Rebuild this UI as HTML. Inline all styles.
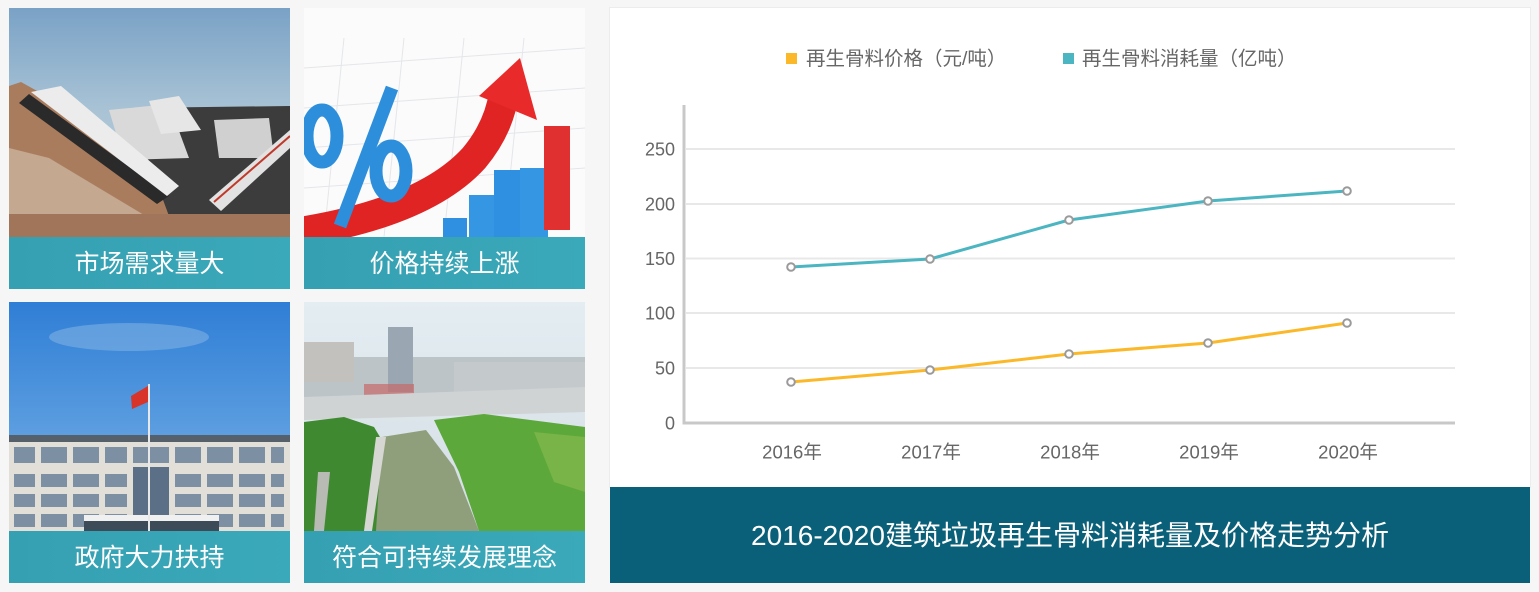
<!DOCTYPE html>
<html>
<head>
<meta charset="utf-8">
<style>
html,body{margin:0;padding:0;background:#f6f6f6;}
body{width:1539px;height:592px;overflow:hidden;}
svg{display:block;}
text{font-family:"Liberation Sans","Noto Sans CJK SC",sans-serif;}
</style>
</head>
<body>
<svg width="1539" height="592" viewBox="0 0 1539 592" xmlns="http://www.w3.org/2000/svg">
<defs>
  <linearGradient id="sky1" x1="0" y1="0" x2="0" y2="1">
    <stop offset="0" stop-color="#7aa2c6"/><stop offset="0.45" stop-color="#a9c3d5"/><stop offset="1" stop-color="#bccfd9"/>
  </linearGradient>
  <linearGradient id="sky3" x1="0" y1="0" x2="0" y2="1">
    <stop offset="0" stop-color="#2f7ed6"/><stop offset="0.6" stop-color="#5e9fe0"/><stop offset="1" stop-color="#8fc3ee"/>
  </linearGradient>
  <linearGradient id="sky4" x1="0" y1="0" x2="0" y2="1">
    <stop offset="0" stop-color="#e4edf2"/><stop offset="1" stop-color="#d2dde3"/>
  </linearGradient>
  <linearGradient id="cap" x1="0" y1="0" x2="1" y2="0">
    <stop offset="0" stop-color="#35a0b2"/><stop offset="1" stop-color="#3aa9b9"/>
  </linearGradient>
  <clipPath id="c1"><rect x="0" y="0" width="281" height="281"/></clipPath>
</defs>

<rect x="0" y="0" width="1539" height="592" fill="#f6f6f6"/>

<!-- Tile 1 -->
<g transform="translate(9,8)" clip-path="url(#c1)">
  <rect x="0" y="0" width="281" height="229" fill="url(#sky1)"/>
  <polygon points="0,78 12,74 30,84 70,118 120,160 160,195 220,205 281,208 281,229 0,229" fill="#a97c5e"/>
  <polygon points="0,140 40,150 90,180 140,210 0,229" fill="#c4a890"/>
  <polygon points="120,100 281,98 281,208 160,208" fill="#3c3c3c"/>
  <polygon points="100,102 160,96 180,150 115,152" fill="#d9d9d9"/>
  <polygon points="140,93 170,88 192,122 152,126" fill="#e6e6e6"/>
  <polygon points="205,112 260,110 265,150 210,150" fill="#d0d0d0"/>
  <polygon points="10,95 20,86 160,188 148,196" fill="#2a2a2a"/>
  <polygon points="22,84 52,78 170,178 158,188" fill="#ececec"/>
  <polygon points="200,192 281,122 281,140 212,203" fill="#e2e2e2"/>
  <line x1="205" y1="194" x2="281" y2="128" stroke="#c0392b" stroke-width="2"/>
  <rect x="0" y="206" width="281" height="23" fill="#a0755a"/>
  <rect x="0" y="229" width="281" height="52" fill="url(#cap)"/>
  <text x="140.5" y="264" font-size="25" fill="#ffffff" text-anchor="middle">市场需求量大</text>
</g>

<!-- Tile 2 -->
<g transform="translate(304,8)" clip-path="url(#c1)">
  <rect x="0" y="0" width="281" height="229" fill="#fbfbfb"/>
  <g stroke="#e4e6ea" stroke-width="1">
    <line x1="0" y1="60" x2="281" y2="40"/><line x1="0" y1="100" x2="281" y2="80"/>
    <line x1="0" y1="140" x2="281" y2="120"/><line x1="0" y1="180" x2="281" y2="160"/>
    <line x1="40" y1="30" x2="20" y2="229"/><line x1="100" y1="30" x2="80" y2="229"/>
    <line x1="160" y1="30" x2="140" y2="229"/><line x1="220" y1="30" x2="200" y2="229"/>
  </g>
  <path d="M -10 225 Q 120 205 170 150 Q 195 120 200 85" stroke="#e02424" stroke-width="30" fill="none"/>
  <polygon points="216,50 175,88 233,112" fill="#e82a2a"/>
  <ellipse cx="18" cy="128" rx="15" ry="26" fill="none" stroke="#2d8fdc" stroke-width="13"/>
  <line x1="88" y1="80" x2="36" y2="218" stroke="#2d8fdc" stroke-width="13"/>
  <ellipse cx="87" cy="163" rx="15" ry="25" fill="none" stroke="#2d8fdc" stroke-width="13"/>
  <rect x="139" y="210" width="24" height="19" fill="#2f8fe0"/>
  <rect x="165" y="187" width="25" height="42" fill="#3596e4"/>
  <rect x="190" y="162" width="27" height="67" fill="#2f8fe0"/>
  <rect x="216" y="160" width="28" height="69" fill="#3596e4"/>
  <rect x="240" y="118" width="26" height="104" fill="#e03030"/>
  <rect x="0" y="229" width="281" height="52" fill="url(#cap)"/>
  <text x="140.5" y="264" font-size="25" fill="#ffffff" text-anchor="middle">价格持续上涨</text>
</g>

<!-- Tile 3 -->
<g transform="translate(9,302)" clip-path="url(#c1)">
  <rect x="0" y="0" width="281" height="229" fill="url(#sky3)"/>
  <ellipse cx="120" cy="35" rx="80" ry="14" fill="#7fb0e2" opacity="0.6"/>
  <rect x="0" y="133" width="281" height="96" fill="#e2ded8"/>
  <rect x="0" y="133" width="281" height="7" fill="#55606a"/>
  <g fill="#7d8fa3">
    <rect x="5" y="145" width="270" height="16"/>
    <rect x="5" y="172" width="270" height="13"/>
    <rect x="5" y="192" width="270" height="13"/>
    <rect x="5" y="212" width="270" height="13"/>
  </g>
  <g fill="#e2ded8">
    <rect x="26" y="143" width="6" height="86"/><rect x="58" y="143" width="6" height="86"/>
    <rect x="90" y="143" width="6" height="86"/><rect x="118" y="143" width="6" height="86"/>
    <rect x="160" y="143" width="6" height="86"/><rect x="192" y="143" width="6" height="86"/>
    <rect x="224" y="143" width="6" height="86"/><rect x="256" y="143" width="6" height="86"/>
  </g>
  <rect x="124" y="165" width="36" height="64" fill="#5b6f86"/>
  <rect x="75" y="213" width="135" height="6" fill="#f0f0f0"/>
  <rect x="75" y="219" width="135" height="10" fill="#3d4a58"/>
  <line x1="140" y1="82" x2="140" y2="229" stroke="#e8e8e8" stroke-width="2"/>
  <polygon points="122,94 139,84 139,100 123,107" fill="#d8342a"/>
  <rect x="0" y="229" width="281" height="52" fill="url(#cap)"/>
  <text x="140.5" y="264" font-size="25" fill="#ffffff" text-anchor="middle">政府大力扶持</text>
</g>

<!-- Tile 4 -->
<g transform="translate(304,302)" clip-path="url(#c1)">
  <rect x="0" y="0" width="281" height="229" fill="url(#sky4)"/>
  <rect x="0" y="55" width="281" height="55" fill="#bcc4c8"/>
  <rect x="0" y="40" width="50" height="40" fill="#c3c1bd"/>
  <rect x="84" y="25" width="25" height="65" fill="#9aa6b2"/>
  <rect x="150" y="60" width="131" height="35" fill="#c4c9cc"/>
  <rect x="60" y="82" width="50" height="14" fill="#c86a6a" opacity="0.7"/>
  <polygon points="0,95 281,85 281,110 0,118" fill="#cfd3d4"/>
  <polygon points="0,120 40,115 70,125 85,150 75,229 0,229" fill="#3f8a30"/>
  <polygon points="130,118 180,112 281,125 281,229 175,229 155,170" fill="#5da83a"/>
  <polygon points="230,130 281,135 281,190 250,180" fill="#78b448"/>
  <polygon points="78,135 122,128 150,165 175,229 72,229" fill="#8f9f7c"/>
  <polygon points="72,135 82,135 68,229 60,229" fill="#d6d6d2"/>
  <polygon points="14,170 26,170 20,229 10,229" fill="#b8bab4"/>
  <rect x="0" y="229" width="281" height="52" fill="url(#cap)"/>
  <text x="140.5" y="264" font-size="25" fill="#ffffff" text-anchor="middle">符合可持续发展理念</text>
</g>

<!-- Chart panel -->
<rect x="609.5" y="7.5" width="921" height="480" fill="#ffffff" stroke="#ececec" stroke-width="1"/>
<rect x="610" y="487" width="920" height="96" fill="#0b6079"/>
<text x="1070" y="545" font-size="28" fill="#ffffff" text-anchor="middle">2016-2020建筑垃圾再生骨料消耗量及价格走势分析</text>

<!-- Legend -->
<rect x="786" y="53" width="11" height="11" fill="#fbb829"/>
<text x="806" y="65" font-size="19.5" fill="#666666">再生骨料价格（元/吨）</text>
<rect x="1063" y="53" width="11" height="11" fill="#4bb5c1"/>
<text x="1082" y="65" font-size="19.5" fill="#666666">再生骨料消耗量（亿吨）</text>

<!-- Grid -->
<g stroke="#e8e8e8" stroke-width="2">
  <line x1="686" y1="149" x2="1455" y2="149"/>
  <line x1="686" y1="204" x2="1455" y2="204"/>
  <line x1="686" y1="258.5" x2="1455" y2="258.5"/>
  <line x1="686" y1="313" x2="1455" y2="313"/>
  <line x1="686" y1="368" x2="1455" y2="368"/>
</g>
<line x1="684" y1="105" x2="684" y2="424.5" stroke="#c8c8c8" stroke-width="3"/>
<line x1="683" y1="423" x2="1455" y2="423" stroke="#c8c8c8" stroke-width="3"/>

<!-- Y labels -->
<g font-size="18" fill="#666666" text-anchor="end">
  <text x="675" y="155.5">250</text>
  <text x="675" y="210.5">200</text>
  <text x="675" y="265">150</text>
  <text x="675" y="319.5">100</text>
  <text x="675" y="374.5">50</text>
  <text x="675" y="429.5">0</text>
</g>
<!-- X labels -->
<g font-size="18.5" fill="#666666" text-anchor="middle">
  <text x="792" y="458.5">2016年</text>
  <text x="931" y="458.5">2017年</text>
  <text x="1070" y="458.5">2018年</text>
  <text x="1209" y="458.5">2019年</text>
  <text x="1348" y="458.5">2020年</text>
</g>

<!-- Series -->
<polyline points="791,267 930,259 1069,220 1208,201 1347,191" fill="none" stroke="#4bb5c1" stroke-width="3" stroke-linejoin="round"/>
<polyline points="791,382 930,370 1069,354 1208,343 1347,323" fill="none" stroke="#fbb829" stroke-width="3" stroke-linejoin="round"/>
<g fill="#ffffff" stroke="#9a9a9a" stroke-width="2">
  <circle cx="791" cy="267" r="3.8"/><circle cx="930" cy="259" r="3.8"/><circle cx="1069" cy="220" r="3.8"/>
  <circle cx="1208" cy="201" r="3.8"/><circle cx="1347" cy="191" r="3.8"/>
  <circle cx="791" cy="382" r="3.8"/><circle cx="930" cy="370" r="3.8"/><circle cx="1069" cy="354" r="3.8"/>
  <circle cx="1208" cy="343" r="3.8"/><circle cx="1347" cy="323" r="3.8"/>
</g>
</svg>
</body>
</html>
